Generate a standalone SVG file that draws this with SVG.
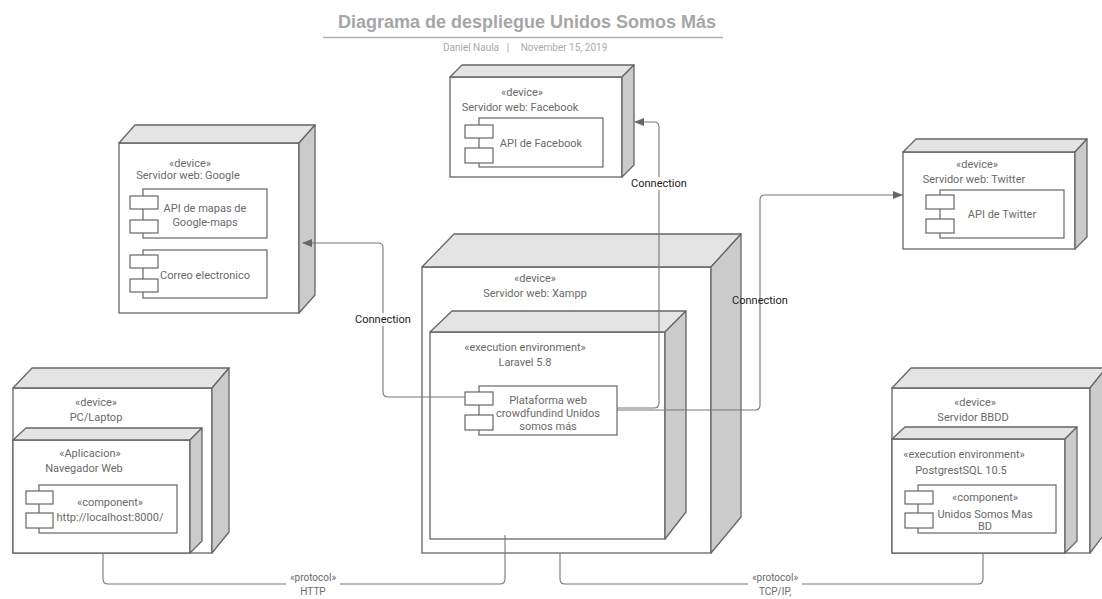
<svg xmlns="http://www.w3.org/2000/svg" width="1102" height="599" viewBox="0 0 1102 599">
<defs>
<style>
.f{fill:#fff;stroke:#666;stroke-width:1.3}
.t{fill:#e4e4e4;stroke:#666;stroke-width:1.3;stroke-linejoin:round}
.s{fill:#cbcbcb;stroke:#666;stroke-width:1.3;stroke-linejoin:round}
.c{fill:#fff;stroke:#666;stroke-width:1.2}
.l{font-family:Roboto,"Liberation Sans",sans-serif;font-size:11px;fill:#6a6a6a;text-anchor:middle}
.sm{font-size:10px}
.cn{font-family:Roboto,"Liberation Sans",sans-serif;font-size:11px;fill:#222;text-anchor:middle}
.e{fill:none;stroke:#777;stroke-width:1.1}
</style>
<marker id="ar" markerWidth="10" markerHeight="8" refX="9" refY="4" orient="auto" markerUnits="userSpaceOnUse">
<path d="M0,0 L10,4 L0,8 Z" fill="#666"/>
</marker>
</defs>
<rect width="1102" height="599" fill="#fff"/>
<g id="title">
<text x="527" y="28" font-family="'Liberation Sans',Arial,sans-serif" font-size="18" font-weight="bold" fill="#a6a6a6" text-anchor="middle">Diagrama de despliegue Unidos Somos Más</text>
<line x1="323" y1="37.5" x2="723" y2="37.5" stroke="#b0b0b0" stroke-width="1.5"/>
<text x="471" y="51" font-family="Roboto,'Liberation Sans',sans-serif" font-size="10" fill="#aaa" text-anchor="middle">Daniel Naula</text>
<text x="508" y="51" font-family="Roboto,'Liberation Sans',sans-serif" font-size="10" fill="#aaa" text-anchor="middle">|</text>
<text x="564" y="51" font-family="Roboto,'Liberation Sans',sans-serif" font-size="10" fill="#aaa" text-anchor="middle">November 15, 2019</text>
</g>
<g id="google">
<rect class="f" x="119" y="143" width="180" height="170"/>
<polygon class="t" points="119,143 135,125 315,125 299,143"/>
<polygon class="s" points="299,143 315,125 315,295 299,313"/>
<text class="l" x="190" y="167">«device»</text>
<text class="l" x="188" y="179">Servidor web: Google</text>
<rect class="c" x="143" y="189" width="124" height="49"/>
<rect class="c" x="130" y="196" width="28" height="13"/>
<rect class="c" x="130" y="220" width="28" height="13"/>
<text class="l" x="205" y="212">API de mapas de</text>
<text class="l" x="205" y="226">Google-maps</text>
<rect class="c" x="143" y="250" width="124" height="48"/>
<rect class="c" x="130" y="255" width="28" height="13"/>
<rect class="c" x="130" y="279" width="28" height="13"/>
<text class="l" x="205" y="279">Correo electronico</text>
</g>
<g id="facebook">
<rect class="f" x="450" y="77" width="172" height="100"/>
<polygon class="t" points="450,77 462,65 634,65 622,77"/>
<polygon class="s" points="622,77 634,65 634,165 622,177"/>
<text class="l" x="522" y="96">«device»</text>
<text class="l" x="520" y="111">Servidor web: Facebook</text>
<rect class="c" x="479" y="118" width="124" height="49"/>
<rect class="c" x="465" y="125" width="28" height="13"/>
<rect class="c" x="465" y="148" width="28" height="15"/>
<text class="l" x="541" y="147">API de Facebook</text>
</g>
<g id="twitter">
<rect class="f" x="903" y="152" width="172" height="97"/>
<polygon class="t" points="903,152 916,139 1087,139 1075,152"/>
<polygon class="s" points="1075,152 1087,139 1087,237 1075,249"/>
<text class="l" x="977" y="168">«device»</text>
<text class="l" x="974" y="183">Servidor web: Twitter</text>
<rect class="c" x="940" y="190" width="124" height="48"/>
<rect class="c" x="926" y="195" width="28" height="14"/>
<rect class="c" x="926" y="219" width="28" height="14"/>
<text class="l" x="1002" y="218">API de Twitter</text>
</g>
<g id="xampp">
<rect class="f" x="422" y="267" width="289" height="286"/>
<polygon class="t" points="422,267 454,234 741,234 711,267"/>
<polygon class="s" points="711,267 741,234 741,517 711,553"/>
<text class="l" x="535" y="282">«device»</text>
<text class="l" x="535" y="297">Servidor web: Xampp</text>
</g>
<g id="laravel">
<rect class="f" x="430" y="332" width="235" height="207"/>
<polygon class="t" points="430,332 452,311 686,311 665,332"/>
<polygon class="s" points="665,332 686,311 686,512 665,539"/>
<text class="l" x="525" y="351">«execution environment»</text>
<text class="l" x="525" y="366">Laravel 5.8</text>
</g>
<g id="plataforma">
<rect class="c" x="479" y="386" width="138" height="49"/>
<rect class="c" x="465" y="392" width="28" height="13"/>
<rect class="c" x="465" y="415" width="28" height="15"/>
<text class="l" x="548" y="404">Plataforma web</text>
<text class="l" x="548" y="417">crowdfundind Unidos</text>
<text class="l" x="548" y="430">somos más</text>
</g>
<g id="pc">
<rect class="f" x="13" y="388" width="199" height="165"/>
<polygon class="t" points="13,388 32,368 229,368 212,388"/>
<polygon class="s" points="212,388 229,368 229,532 212,553"/>
<text class="l" x="96" y="406">«device»</text>
<text class="l" x="96" y="421">PC/Laptop</text>
</g>
<g id="navegador">
<rect class="f" x="13" y="440" width="177" height="113"/>
<polygon class="t" points="13,440 26,428 202,428 190,440"/>
<polygon class="s" points="190,440 202,428 202,541 190,553"/>
<text class="l" x="90" y="457">«Aplicacion»</text>
<text class="l" x="84" y="472">Navegador Web</text>
<rect class="c" x="39" y="485" width="138" height="48"/>
<rect class="c" x="26" y="491" width="27" height="13"/>
<rect class="c" x="26" y="513" width="27" height="15"/>
<text class="l" x="110" y="506">«component»</text>
<text class="l" x="110" y="521">http://localhost:8000/</text>
</g>
<g id="bbdd">
<rect class="f" x="892" y="388" width="198" height="165"/>
<polygon class="t" points="892,388 911,368 1106,368 1090,388"/>
<polygon class="s" points="1090,388 1106,368 1106,532 1090,553"/>
<text class="l" x="975" y="406">«device»</text>
<text class="l" x="973" y="421">Servidor BBDD</text>
</g>
<g id="postgres">
<rect class="f" x="892" y="439" width="173" height="114"/>
<polygon class="t" points="892,439 905,427 1077,427 1065,439"/>
<polygon class="s" points="1065,439 1077,427 1077,541 1065,553"/>
<text class="l" x="964" y="458">«execution environment»</text>
<text class="l" x="961" y="474">PostgrestSQL 10.5</text>
<rect class="c" x="918" y="485" width="138" height="48"/>
<rect class="c" x="905" y="491" width="28" height="13"/>
<rect class="c" x="905" y="513" width="28" height="15"/>
<text class="l" x="985" y="501">«component»</text>
<text class="l" x="985" y="518">Unidos Somos Mas</text>
<text class="l" x="985" y="530">BD</text>
</g>
<g id="connectors">
<path class="e" d="M465,397 H388 Q383,397 383,392 V248 Q383,243 378,243 H303" marker-end="url(#ar)"/>
<path class="e" d="M617,408 H654 Q659,408 659,403 V127 Q659,122 654,122 H635" marker-end="url(#ar)"/>
<path class="e" d="M617,410 H755 Q760,410 760,405 V200 Q760,195 765,195 H902" marker-end="url(#ar)"/>
<path class="e" d="M103,553 V579 Q103,584 108,584 H500 Q505,584 505,579 V535"/>
<path class="e" d="M560,553 V579 Q560,584 565,584 H978 Q983,584 983,579 V553"/>
<rect x="354" y="313" width="58" height="13" fill="#fff"/>
<text class="cn" x="383" y="323">Connection</text>
<rect x="631" y="177" width="56" height="13" fill="#fff"/>
<text class="cn" x="659" y="187">Connection</text>
<text class="cn" x="760" y="304">Connection</text>
<rect x="286" y="570" width="54" height="28" fill="#fff"/>
<text class="l sm" x="313" y="581">«protocol»</text>
<text class="l sm" x="313" y="595">HTTP</text>
<rect x="748" y="570" width="54" height="28" fill="#fff"/>
<text class="l sm" x="775" y="581">«protocol»</text>
<text class="l sm" x="775" y="595">TCP/IP,</text>
</g>
</svg>
